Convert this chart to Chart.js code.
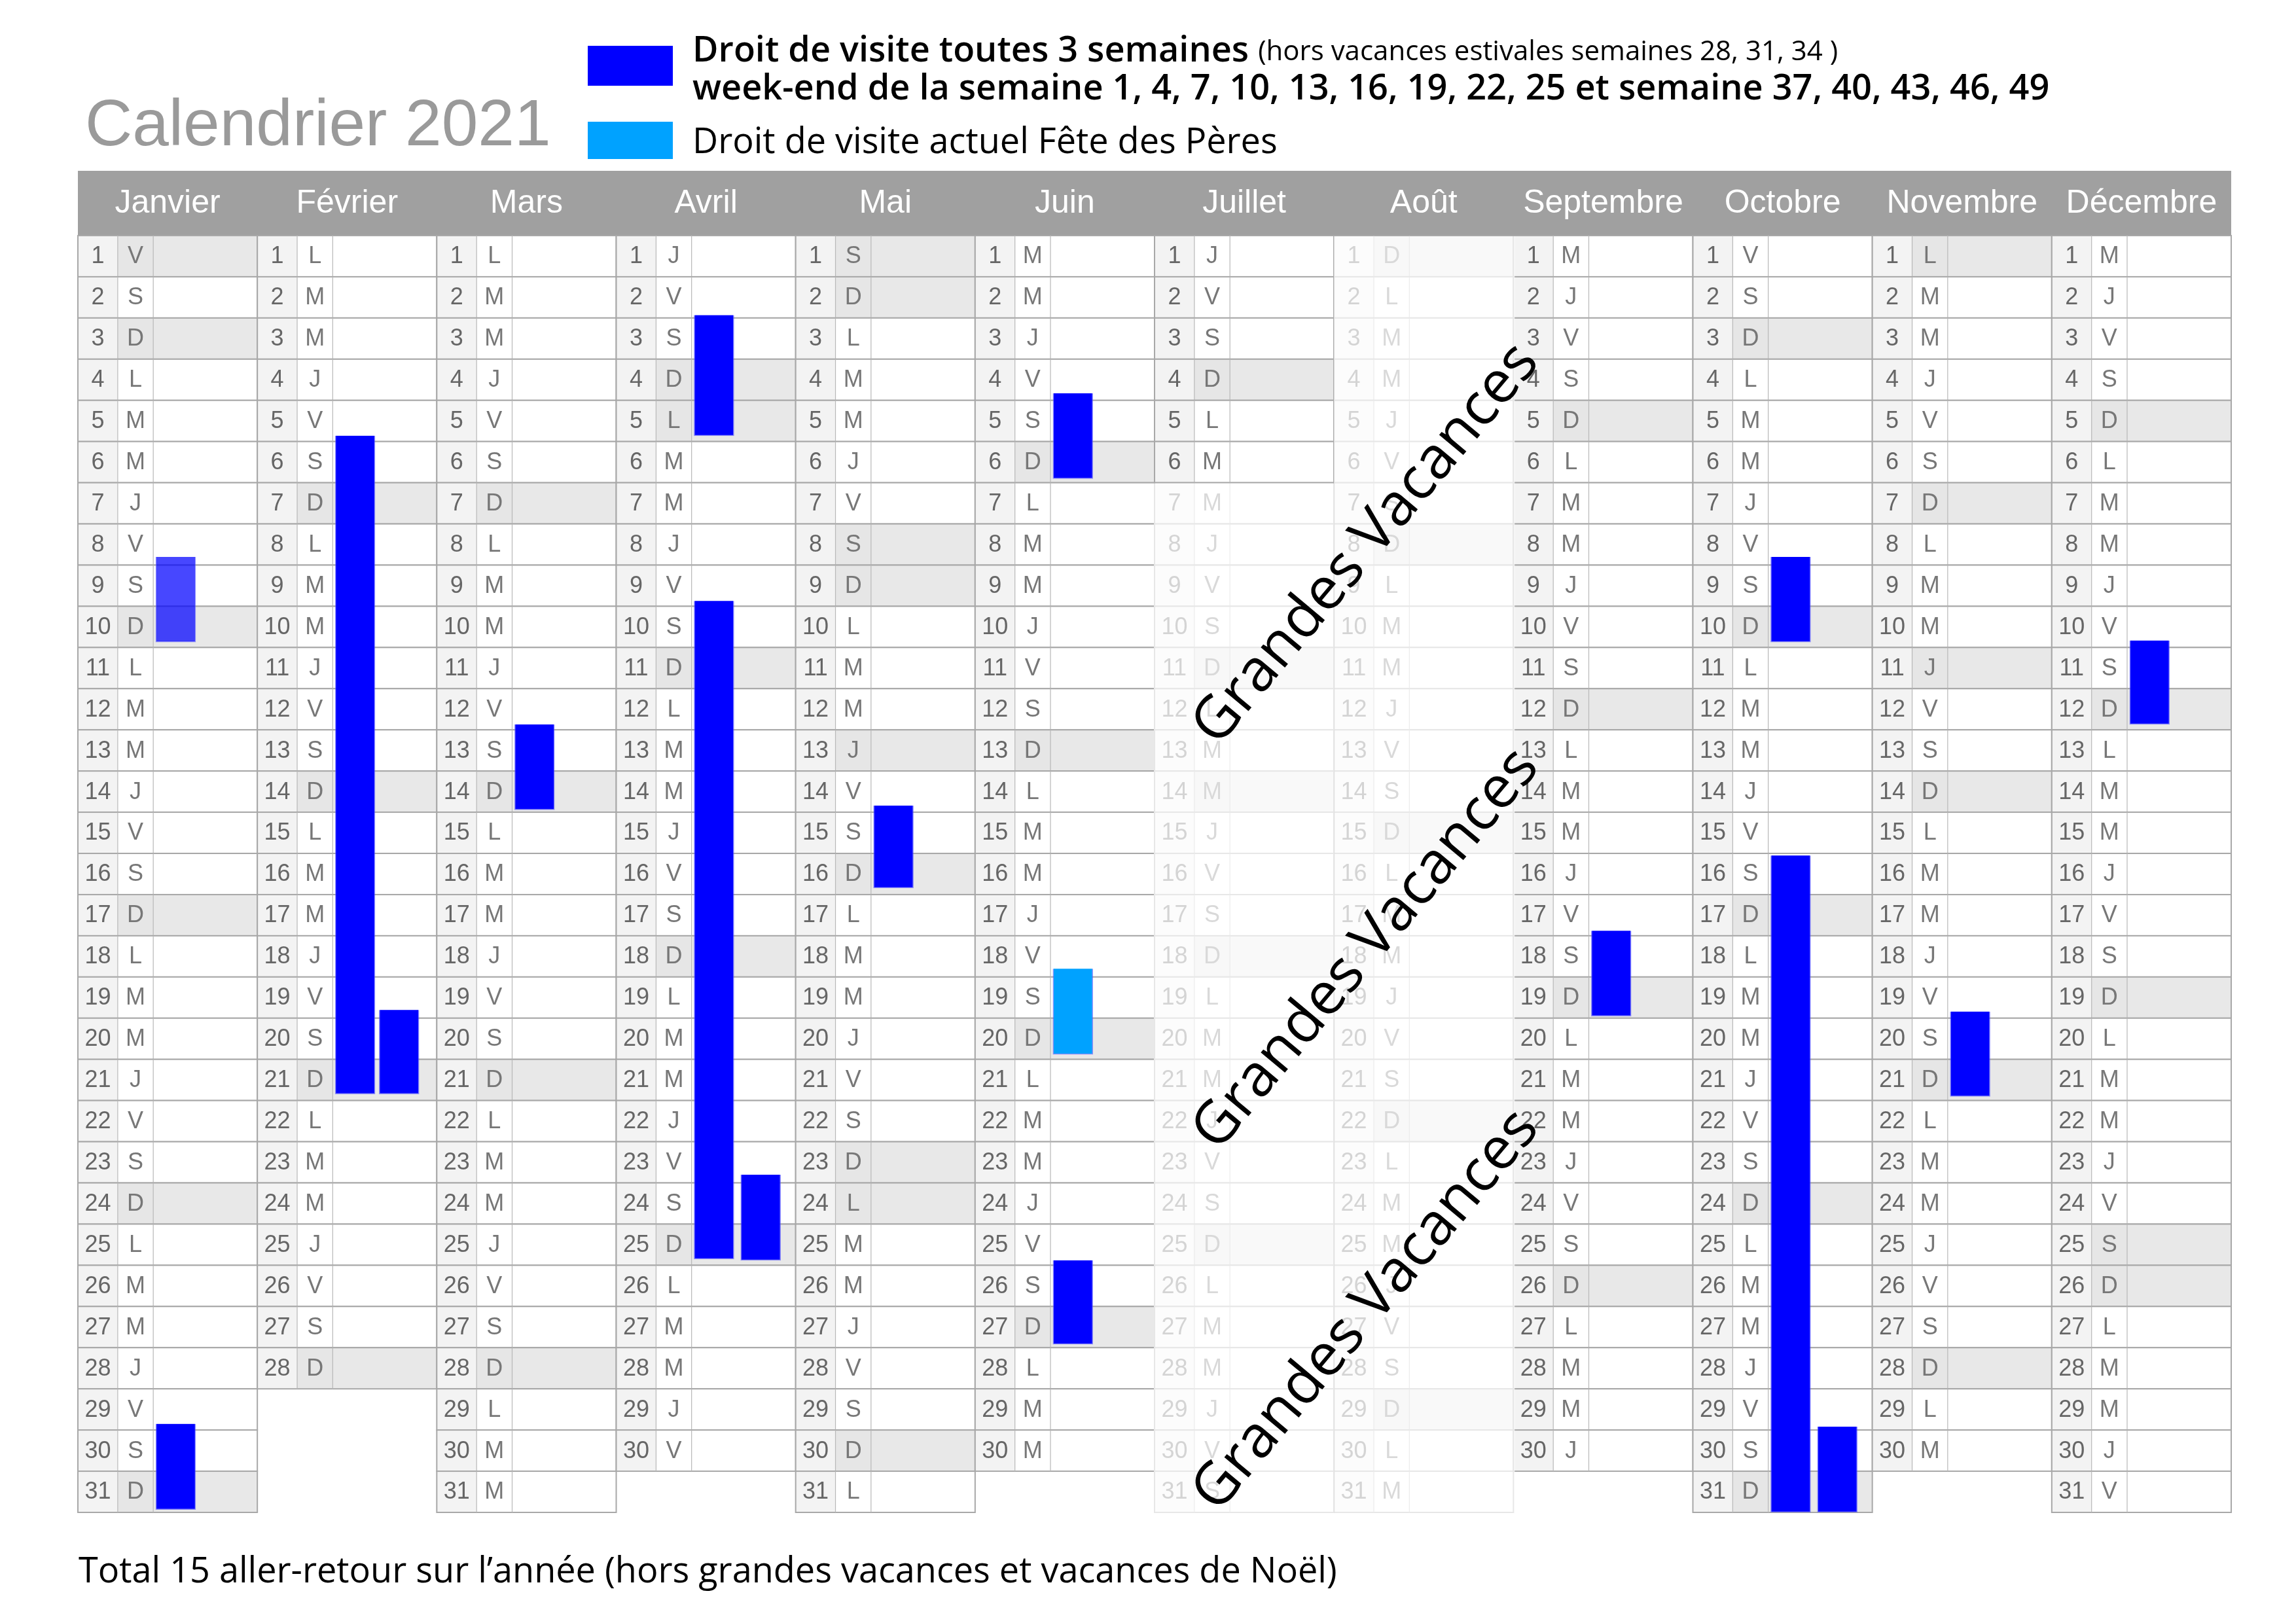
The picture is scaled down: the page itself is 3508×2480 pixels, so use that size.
<!DOCTYPE html>
<html><head><meta charset="utf-8">
<script src="https://cdn.jsdelivr.net/npm/chart.js@4"></script>
<style>html,body{margin:0;padding:0;background:#fff}canvas{display:block}</style>
</head><body>
<canvas id="c" width="3508" height="2480" style="width:3508px;height:2480px"></canvas>
<script>
const months = ['Janvier','Février','Mars','Avril','Mai','Juin','Juillet','Août','Septembre','Octobre','Novembre','Décembre'];
const daysInMonth = [31,28,31,30,31,30,31,31,30,31,30,31];
const dayLetters = ['D','L','M','M','J','V','S'];
// holidays [month index, day]
const holidays = [[0,1],[3,5],[4,1],[4,8],[4,13],[4,24],[6,14],[7,15],[10,1],[10,11],[11,25]];
// visit bars
const barMonth = [0,0,1,1,2,3,3,3,4,5,5,5,8,9,9,9,10,11];
const barStart = [7.8,28.85,4.86,18.8,11.87,1.93,8.87,22.8,13.84,3.83,17.8,24.88,16.88,7.8,15.05,28.92,18.84,9.83];
const barEnd   = [9.87,30.93,20.84,20.84,13.94,4.86,24.85,24.88,15.84,5.9,19.88,26.92,18.95,9.87,31,31,20.9,11.87];
const barLane  = [0,0,0,1,0,0,0,1,0,0,0,0,0,0,0,1,0,0];
const barKind  = ['faded','std','std','std','std','std','std','std','std','std','pere','std','std','std','std','std','std','std'];
const laneOffset = [0.545, 0.805];
const kindColor = {std:'#0000ff', faded:'rgba(0,0,255,0.72)', pere:'#00a2ff'};

const barData = barMonth.map((m,i)=>({x: m + laneOffset[barLane[i]] + (barLane[i]===1 && m===1 ? -0.015 : 0), y:[barStart[i], barEnd[i]]}));

const isShaded = (m,d) => new Date(2021,m,d).getDay()===0 || holidays.some(h=>h[0]===m&&h[1]===d);

const gridPlugin = {
  id:'grid',
  beforeDatasetsDraw(chart){
    const ctx = chart.ctx, xs = chart.scales.x, ys = chart.scales.y;
    const top = ys.getPixelForValue(0), left = xs.getPixelForValue(0), right = xs.getPixelForValue(12);
    ctx.save();
    const headTop = top - 99;
    ctx.fillStyle = '#a0a0a0';
    ctx.fillRect(left, headTop, right-left, top-headTop);
    ctx.fillStyle = '#fff'; ctx.font = '50px "Liberation Sans", Arial'; ctx.textAlign='center'; ctx.textBaseline='middle';
    months.forEach((name,m)=>{
      const cx = (xs.getPixelForValue(m)+xs.getPixelForValue(m+1))/2;
      ctx.fillText(name, cx, headTop + 50);
    });
    for (let m=0;m<12;m++){
      const x0 = xs.getPixelForValue(m), x1 = xs.getPixelForValue(m+1);
      const xn = x0 + (x1-x0)*0.222, xl = x0 + (x1-x0)*0.42;
      for (let d=1; d<=daysInMonth[m]; d++){
        const y0 = ys.getPixelForValue(d-1), y1 = ys.getPixelForValue(d);
        const sh = isShaded(m,d);
        ctx.fillStyle = '#f3f3f3'; ctx.fillRect(x0,y0,xn-x0,y1-y0);
        ctx.fillStyle = sh ? '#e6e6e6' : '#fff'; ctx.fillRect(xn,y0,xl-xn,y1-y0);
        ctx.fillStyle = sh ? '#e8e8e8' : '#fff'; ctx.fillRect(xl,y0,x1-xl,y1-y0);
        ctx.strokeStyle = '#a8a8a8'; ctx.lineWidth = 2;
        ctx.strokeRect(x0,y0,x1-x0,y1-y0);
        ctx.lineWidth = 1.2; ctx.strokeStyle='#b8b8b8';
        ctx.beginPath(); ctx.moveTo(xn,y0); ctx.lineTo(xn,y1); ctx.moveTo(xl,y0); ctx.lineTo(xl,y1); ctx.stroke();
        ctx.fillStyle = '#666'; ctx.font = '36px "Liberation Sans", Arial'; ctx.textAlign='center'; ctx.textBaseline='middle';
        ctx.fillText(String(d), (x0+xn)/2, (y0+y1)/2+1);
        ctx.fillStyle = '#777';
        ctx.fillText(dayLetters[new Date(2021,m,d).getDay()], (xn+xl)/2, (y0+y1)/2+1);
      }
    }
    ctx.fillStyle = 'rgba(255,255,255,0.72)';
    const jx0 = xs.getPixelForValue(6), jx1 = xs.getPixelForValue(7), ax1 = xs.getPixelForValue(8);
    ctx.fillRect(jx0-1, ys.getPixelForValue(6)+1, jx1-jx0+1, ys.getPixelForValue(31)-ys.getPixelForValue(6)+2);
    ctx.fillRect(jx1, top+1, ax1-jx1+2, ys.getPixelForValue(31)-top+2);
    ctx.restore();
  },
  afterDatasetsDraw(chart){
    const ctx = chart.ctx, xs = chart.scales.x;
    ctx.save();
    ctx.fillStyle = '#000'; ctx.font = '90px "Open Sans", "Noto Sans"'; ctx.textAlign='center'; ctx.textBaseline='middle';
    const gx = xs.getPixelForValue(7.18);
    [[gx, 832],[gx,1451],[gx,2003]].forEach(p=>{
      ctx.save(); ctx.translate(p[0],p[1]); ctx.rotate(-50*Math.PI/180); ctx.fillText('Grandes Vacances',0,0); ctx.restore();
    });
    ctx.textAlign='left'; ctx.textBaseline='alphabetic';
    ctx.fillStyle='#9a9a9a'; ctx.font='100px "Liberation Sans", Arial';
    ctx.fillText('Calendrier 2021', 130, 222);
    ctx.fillStyle='#0000ff'; ctx.fillRect(898,70,130,61);
    ctx.fillStyle='#00a2ff'; ctx.fillRect(898,186,130,57);
    ctx.fillStyle='#000';
    ctx.font='600 54px "Open Sans", "Noto Sans"';
    ctx.fillText('Droit de visite toutes 3 semaines', 1058, 94);
    const w = ctx.measureText('Droit de visite toutes 3 semaines ').width;
    ctx.font='42px "Open Sans", "Noto Sans"';
    ctx.fillText('(hors vacances estivales semaines 28, 31, 34 )', 1058+w, 92);
    ctx.font='600 54px "Open Sans", "Noto Sans"';
    ctx.fillText('week-end de la semaine 1, 4, 7, 10, 13, 16, 19, 22, 25 et semaine 37, 40, 43, 46, 49', 1058, 152);
    ctx.font='500 54px "Open Sans", "Noto Sans"';
    ctx.fillText('Droit de visite actuel Fête des Pères', 1058, 234);
    ctx.font='54px "Open Sans", "Noto Sans"';
    ctx.fillText('Total 15 aller-retour sur l\u2019année (hors grandes vacances et vacances de Noël)', 120, 2418);
    ctx.restore();
  }
};

new Chart(document.getElementById('c'), {
  type:'bar',
  data:{ datasets:[{
    data: barData,
    backgroundColor: barKind.map(k=>kindColor[k]),
    borderColor: 'rgba(80,80,255,0.6)', borderWidth: 1.5,
    barThickness: 61, grouped:false
  }]},
  options:{
    responsive:false, animation:false, devicePixelRatio:1,
    layout:{padding:{left:119,right:99,top:360,bottom:169}},
    plugins:{legend:{display:false},tooltip:{enabled:false}},
    scales:{
      x:{type:'linear',min:0,max:12,display:false,offset:false},
      y:{type:'linear',min:0,max:31,reverse:true,display:false}
    }
  },
  plugins:[gridPlugin]
});
</script>
</body></html>
